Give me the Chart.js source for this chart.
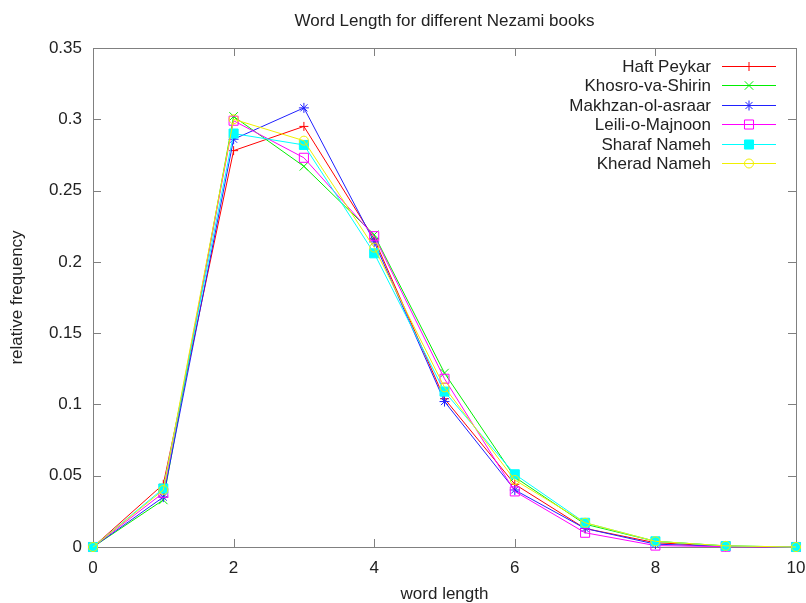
<!DOCTYPE html>
<html><head><meta charset="utf-8">
<script src="https://cdn.jsdelivr.net/npm/chart.js@4/dist/chart.umd.min.js"></script>
<style>html,body{margin:0;padding:0;background:#fff}#wrap{width:806px;height:603px}</style>
</head><body><div id="wrap"><canvas id="c" width="806" height="603"></canvas></div>
<script>
const titleText = "Word Length for different Nezami books";
const xAxisLabel = "word length";
const yAxisLabel = "relative frequency";
const wordLengths = [0, 1, 2, 3, 4, 5, 6, 7, 8, 9, 10];
const xTicks = [0, 2, 4, 6, 8, 10];
const xTickLabels = ["0", "2", "4", "6", "8", "10"];
const yTicks = [0, 0.05, 0.1, 0.15, 0.2, 0.25, 0.3, 0.35];
const yTickLabels = ["0", "0.05", "0.1", "0.15", "0.2", "0.25", "0.3", "0.35"];
const bookNames = ["Haft Peykar", "Khosro-va-Shirin", "Makhzan-ol-asraar", "Leili-o-Majnoon", "Sharaf Nameh", "Kherad Nameh"];
const haftPeykar     = [0, 0.044, 0.278, 0.295, 0.216, 0.104, 0.044, 0.013, 0.003, 0.0005, 0];
const khosroVaShirin = [0, 0.033, 0.302, 0.267, 0.219, 0.122, 0.049, 0.016, 0.004, 0.0008, 0];
const makhzanOlAsraar= [0, 0.035, 0.286, 0.308, 0.214, 0.102, 0.040, 0.013, 0.002, 0.0004, 0];
const leiliOMajnoon  = [0, 0.038, 0.299, 0.273, 0.218, 0.118, 0.039, 0.010, 0.001, 0.0002, 0];
const sharafNameh    = [0, 0.041, 0.290, 0.282, 0.206, 0.109, 0.051, 0.017, 0.004, 0.0007, 0];
const kheradNameh    = [0, 0.040, 0.300, 0.285, 0.210, 0.112, 0.047, 0.017, 0.004, 0.0008, 0];

const seriesValues = [haftPeykar, khosroVaShirin, makhzanOlAsraar, leiliOMajnoon, sharafNameh, kheradNameh];
const seriesColors = ["#ff0000", "#00ee00", "#2020ff", "#ff00ff", "#00ffff", "#f0f000"];
const seriesStyles = [
  {pointStyle: "cross", radius: 4.5, fill: false},
  {pointStyle: "crossRot", radius: 6, fill: false},
  {pointStyle: "star", radius: 5, fill: false},
  {pointStyle: "rect", radius: 6.4, fill: false},
  {pointStyle: "rect", radius: 6.4, fill: true},
  {pointStyle: "circle", radius: 4.5, fill: false}
];

const FONT = "'Liberation Sans', Arial, sans-serif";
const TEXT = "#222";
const AXIS = "#808080";

const datasets = seriesValues.map((vals, i) => ({
  label: bookNames[i],
  data: vals.map((v, j) => ({x: wordLengths[j], y: v})),
  borderColor: seriesColors[i],
  backgroundColor: seriesStyles[i].fill ? seriesColors[i] : "rgba(0,0,0,0)",
  borderWidth: 1,
  pointStyle: seriesStyles[i].pointStyle,
  pointRadius: seriesStyles[i].radius,
  pointBorderWidth: 1,
  pointBackgroundColor: seriesStyles[i].fill ? seriesColors[i] : "rgba(0,0,0,0)",
  pointBorderColor: seriesColors[i],
  tension: 0,
  fill: false,
  clip: false,
  order: seriesValues.length - 1 - i
}));

function drawMarker(ctx, style, radius, x, y, color, filled) {
  ctx.save();
  ctx.strokeStyle = color;
  ctx.fillStyle = filled ? color : "rgba(0,0,0,0)";
  ctx.lineWidth = 1;
  if (Chart.helpers && Chart.helpers.drawPoint) {
    Chart.helpers.drawPoint(ctx, {pointStyle: style, radius: radius, rotation: 0, borderWidth: 1}, x, y);
  }
  ctx.restore();
}

const framePlugin = {
  id: "frame",
  beforeDatasetsDraw(chart) {
    const {ctx, chartArea: a, scales} = chart;
    ctx.save();
    ctx.strokeStyle = AXIS;
    ctx.lineWidth = 1;
    ctx.strokeRect(Math.round(a.left) + 0.5, Math.round(a.top) + 0.5, Math.round(a.right - a.left), Math.round(a.bottom - a.top));
    ctx.beginPath();
    xTicks.forEach(v => {
      const px = Math.round(scales.x.getPixelForValue(v)) + 0.5;
      ctx.moveTo(px, a.bottom); ctx.lineTo(px, a.bottom - 8);
      ctx.moveTo(px, a.top); ctx.lineTo(px, a.top + 8);
    });
    yTicks.forEach(v => {
      const py = Math.round(scales.y.getPixelForValue(v)) + 0.5;
      ctx.moveTo(a.left, py); ctx.lineTo(a.left + 8, py);
      ctx.moveTo(a.right, py); ctx.lineTo(a.right - 8, py);
    });
    ctx.stroke();
    ctx.restore();
  },
  afterDraw(chart) {
    const {ctx, chartArea: a} = chart;
    ctx.save();
    ctx.fillStyle = TEXT;
    ctx.font = "17px " + FONT;
    ctx.textAlign = "center";
    ctx.textBaseline = "alphabetic";
    ctx.fillText(titleText, (a.left + a.right) / 2, 26);
    // legend
    ctx.textAlign = "right";
    chart.data.datasets.forEach((ds, i) => {
      const cy = 66 + i * 19.4;
      ctx.fillStyle = TEXT;
      ctx.fillText(ds.label, 711, cy + 6);
      ctx.strokeStyle = ds.borderColor;
      ctx.lineWidth = 1;
      ctx.beginPath();
      ctx.moveTo(722, Math.round(cy) + 0.5);
      ctx.lineTo(776, Math.round(cy) + 0.5);
      ctx.stroke();
      drawMarker(ctx, ds.pointStyle, ds.pointRadius, 749, Math.round(cy) + 0.5, ds.borderColor, seriesStyles[i].fill);
    });
    ctx.restore();
  }
};

new Chart(document.getElementById("c"), {
  type: "line",
  data: {datasets},
  options: {
    responsive: false,
    animation: false,
    devicePixelRatio: 1,
    layout: {padding: {left: 0, right: 10, top: 48, bottom: 0}},
    plugins: {legend: {display: false}, title: {display: false}, tooltip: {enabled: false}},
    scales: {
      x: {
        type: "linear", min: 0, max: 10,
        afterBuildTicks: s => { s.ticks = xTicks.map(v => ({value: v})); },
        afterFit: s => { s.height = 56; s.paddingLeft = 0; s.paddingRight = 0; },
        ticks: {
          padding: 11, color: TEXT, maxRotation: 0, autoSkip: false,
          font: {family: FONT, size: 17},
          callback: (v, i) => xTickLabels[i]
        },
        grid: {display: false, drawTicks: false},
        border: {display: false},
        title: {display: true, text: xAxisLabel, color: TEXT, font: {family: FONT, size: 17, lineHeight: 1}, padding: {top: 0, bottom: 0}}
      },
      y: {
        type: "linear", min: 0, max: 0.35,
        afterBuildTicks: s => { s.ticks = yTicks.map(v => ({value: v})); },
        afterFit: s => { s.width = 93; s.paddingTop = 0; s.paddingBottom = 0; },
        ticks: {
          padding: 11, color: TEXT, autoSkip: false,
          font: {family: FONT, size: 17},
          callback: (v, i) => yTickLabels[i]
        },
        grid: {display: false, drawTicks: false},
        border: {display: false},
        title: {display: true, text: yAxisLabel, color: TEXT, font: {family: FONT, size: 17, lineHeight: 1}, padding: {top: 8.5, bottom: 0}}
      }
    }
  },
  plugins: [framePlugin]
});
</script>
</body></html>
